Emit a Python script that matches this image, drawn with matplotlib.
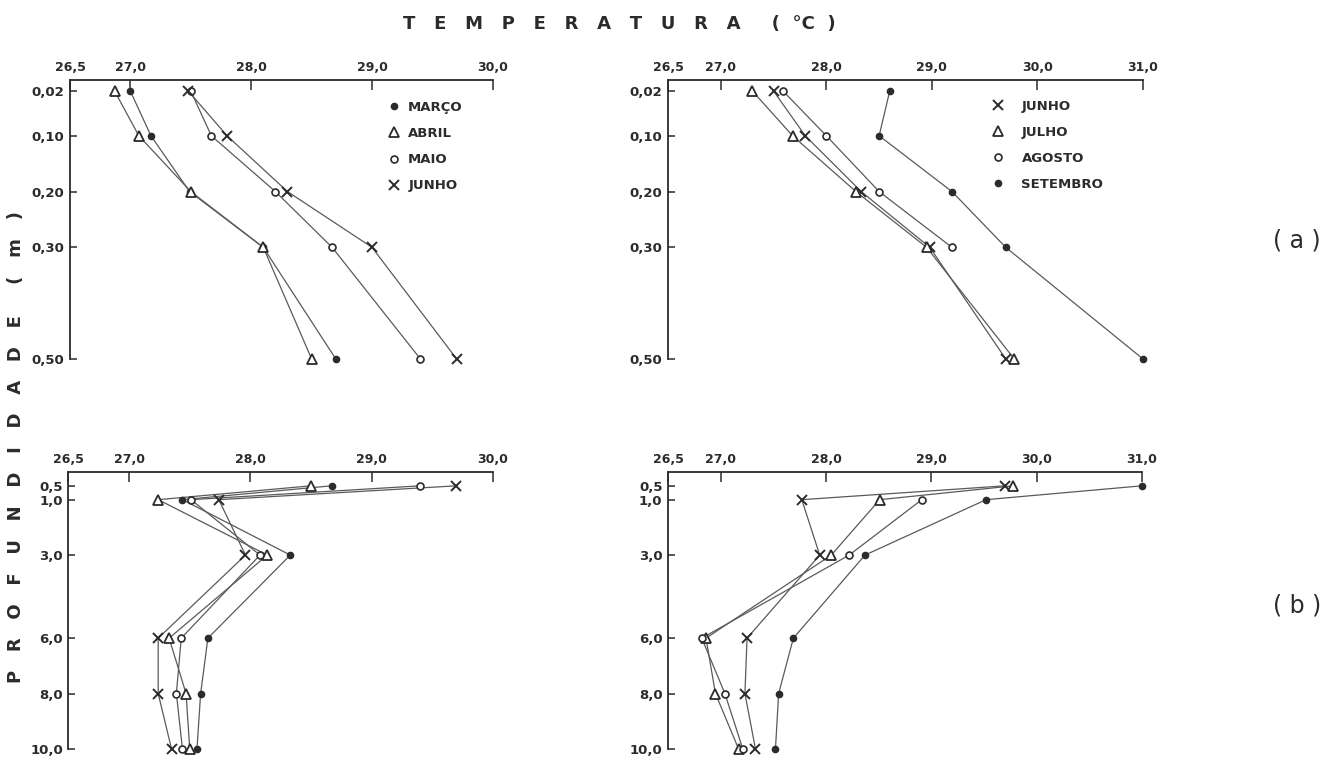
import numpy as np
import matplotlib
matplotlib.use("Agg")
import matplotlib.pyplot as plt
from matplotlib.lines import Line2D

plt.rcParams["font.family"] = ["DejaVu Sans"]
plt.rcParams["font.weight"] = "bold"

INK = "#2b2b2b"
LINE = "#5a5a5a"

# depths (m)
depth_top = [0.02, 0.10, 0.20, 0.30, 0.50]
depth_bottom = [0.5, 1.0, 3.0, 6.0, 8.0, 10.0]

# (a) surface layer, March-June
marco_a = [27.00, 27.17, 27.49, 28.10, 28.70]
abril_a = [26.87, 27.07, 27.50, 28.10, 28.50]
maio_a = [27.50, 27.67, 28.20, 28.67, 29.40]
junho_a = [27.48, 27.80, 28.30, 29.00, 29.70]

# (a) surface layer, June-September
junho_a2 = [27.50, 27.80, 28.33, 28.98, 29.70]
julho_a2 = [27.30, 27.68, 28.28, 28.95, 29.78]
agosto_a2 = [27.59, 28.00, 28.50, 29.19, np.nan]
setembro_a2 = [28.60, 28.50, 29.19, 29.70, 31.00]

# (b) water column, March-June
marco_b = [28.67, 27.44, 28.33, 27.65, 27.59, 27.56]
abril_b = [28.50, 27.24, 28.14, 27.33, 27.47, 27.50]
maio_b = [29.40, 27.51, 28.08, 27.43, 27.39, 27.44]
junho_b = [29.70, 27.74, 27.96, 27.24, 27.24, 27.35]

# (b) water column, June-September
junho_b2 = [29.70, 27.77, 27.94, 27.25, 27.23, 27.33]
julho_b2 = [29.78, 28.51, 28.05, 26.86, 26.95, 27.17]
agosto_b2 = [np.nan, 28.91, 28.22, 26.82, 27.04, 27.21]
setembro_b2 = [31.00, 29.52, 28.37, 27.69, 27.55, 27.52]

left_months = ["MARÇO", "ABRIL", "MAIO", "JUNHO"]
right_months = ["JUNHO", "JULHO", "AGOSTO", "SETEMBRO"]

xticks_left = [26.5, 27.0, 28.0, 29.0, 30.0]
xticks_right = [26.5, 27.0, 28.0, 29.0, 30.0, 31.0]

STYLES = {
  "MARÇO": dict(marker="o", ms=4.5, mfc=INK, mec=INK),
  "SETEMBRO": dict(marker="o", ms=4.5, mfc=INK, mec=INK),
  "ABRIL": dict(marker="^", ms=6.5, mfc="white", mec=INK, mew=1.3),
  "JULHO": dict(marker="^", ms=6.5, mfc="white", mec=INK, mew=1.3),
  "MAIO": dict(marker="o", ms=5, mfc="white", mec=INK, mew=1.2),
  "AGOSTO": dict(marker="o", ms=5, mfc="white", mec=INK, mew=1.2),
  "JUNHO": dict(marker="x", ms=6.5, mfc=INK, mec=INK, mew=1.4),
}


def fmt(v, nd):
  return f"{v:.{nd}f}".replace(".", ",")


def style_axes(ax, xticks, xlim, depths, ylim, ynd):
  ax.set_xlim(*xlim)
  ax.set_ylim(*ylim)
  ax.xaxis.tick_top()
  ax.set_xticks(xticks)
  ax.set_xticklabels([fmt(v, 1) for v in xticks], fontsize=9, color=INK)
  ax.set_yticks(depths)
  ax.set_yticklabels([fmt(v, ynd) for v in depths], fontsize=9.5, color=INK)
  ax.tick_params(axis="x", direction="in", length=7, width=1.1, pad=4, colors=INK)
  ax.tick_params(axis="y", direction="in", length=5, width=1.1, pad=4, colors=INK)
  for side in ("right", "bottom"):
    ax.spines[side].set_visible(False)
  for side in ("left", "top"):
    ax.spines[side].set_color(INK)
    ax.spines[side].set_linewidth(1.3)
  ax.patch.set_alpha(0)


def draw_series(ax, depths, series, names):
  for vals, name in zip(series, names):
    ax.plot(vals, depths, color=LINE, lw=0.9, ls="-", zorder=2, clip_on=False)
    ax.plot(vals, depths, ls="none", zorder=3, clip_on=False, **STYLES[name])


def add_legend(ax, names, anchor, textpad):
  handles = [Line2D([], [], ls="none", **STYLES[n]) for n in names]
  ax.legend(handles, names, loc="upper left", bbox_to_anchor=anchor, frameon=False,
            borderpad=0, borderaxespad=0, handlelength=0.8, handletextpad=textpad,
            labelspacing=1.0, prop=dict(size=9.5, weight="bold"), labelcolor=INK)


fig = plt.figure(figsize=(13.3, 7.61), dpi=100)
fig.patch.set_facecolor("white")

ax_tl = fig.add_axes([0.0526, 0.5283, 0.3180, 0.3666])
ax_tr = fig.add_axes([0.5023, 0.5283, 0.3571, 0.3666])
ax_bl = fig.add_axes([0.0515, 0.0158, 0.3190, 0.3640])
ax_br = fig.add_axes([0.5023, 0.0158, 0.3563, 0.3640])

draw_series(ax_tl, depth_top, [marco_a, abril_a, maio_a, junho_a], left_months)
draw_series(ax_tr, depth_top, [junho_a2, julho_a2, agosto_a2, setembro_a2], right_months)
draw_series(ax_bl, depth_bottom, [marco_b, abril_b, maio_b, junho_b], left_months)
draw_series(ax_br, depth_bottom, [junho_b2, julho_b2, agosto_b2, setembro_b2], right_months)

style_axes(ax_tl, xticks_left, (26.5, 30.0), depth_top, (0.5, 0.0), 2)
style_axes(ax_tr, xticks_right, (26.5, 31.0), depth_top, (0.5, 0.0), 2)
style_axes(ax_bl, xticks_left, (26.5, 30.0), depth_bottom, (10.0, 0.0), 1)
style_axes(ax_br, xticks_right, (26.5, 31.0), depth_bottom, (10.0, 0.0), 1)

add_legend(ax_tl, left_months, (0.753, 0.925), 0.7)
add_legend(ax_tr, right_months, (0.683, 0.93), 1.4)

fig.text(0.466, 0.968, "T   E   M   P   E   R   A   T   U   R   A     (  °C  )",
         ha="center", va="center", fontsize=13, fontweight="bold", color=INK)
fig.text(0.012, 0.412, "P   R   O   F   U   N   D   I   D   A   D   E     (   m   )",
         ha="center", va="center", rotation=90, fontsize=13, fontweight="bold", color=INK)
fig.text(0.975, 0.684, "( a )", ha="center", va="center", fontsize=17, fontweight="normal", color=INK)
fig.text(0.975, 0.204, "( b )", ha="center", va="center", fontsize=17, fontweight="normal", color=INK)

fig.savefig("out.png", dpi=100, facecolor="white")
